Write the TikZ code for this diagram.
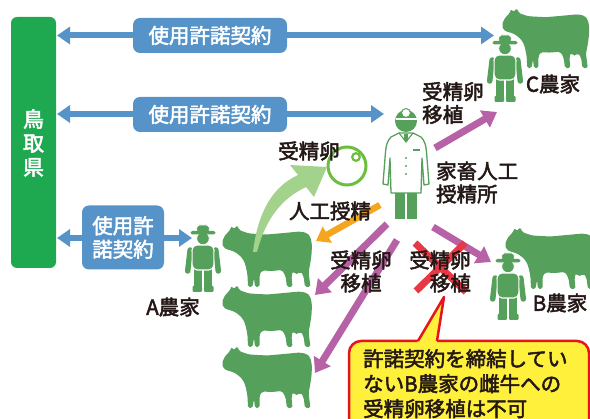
\documentclass[tikz,border=0pt]{standalone}
\usepackage{fontspec}
\setmainfont{Noto Sans CJK JP}[FakeBold=2.4]
\usetikzlibrary{arrows.meta}

\definecolor{prefgreen}{RGB}{30,168,80}
\definecolor{licblue}{RGB}{86,147,200}
\definecolor{animal}{RGB}{85,160,90}
\definecolor{etpurple}{RGB}{183,98,166}
\definecolor{aiorange}{RGB}{245,165,30}
\definecolor{eggarrow}{RGB}{163,210,140}
\definecolor{eggring}{RGB}{108,190,62}
\definecolor{crossred}{RGB}{232,56,70}
\definecolor{noteborder}{RGB}{230,20,30}
\definecolor{notefill}{RGB}{255,240,60}
\definecolor{ink}{RGB}{35,24,21}

\tikzset{
  lbl/.style={text=ink, inner sep=0pt, font=\fontsize{20.5}{23}\selectfont},
  licbox/.style={fill=licblue, text=white, rounded corners=7pt, inner sep=0pt,
    font=\fontsize{20.5}{23.5}\selectfont, align=center},
  licarrow/.style={licblue, line width=6pt,
    {Triangle[width=17pt,length=13pt]}-{Triangle[width=17pt,length=13pt]}},
  etarrow/.style={etpurple, line width=7pt, -{Triangle[width=19pt,length=14pt]}},
  aiarrow/.style={aiorange, line width=6.5pt, -{Triangle[width=18pt,length=13pt]}},
  % cow silhouette facing left, about 90 x 62
  cow/.pic={
    \fill[animal, rounded corners=1.8pt]
      (0,18) -- (1.5,13) -- (4.5,8.5) -- (8,5.5) -- (9.5,0.5) -- (11.5,4.5)
      -- (15.5,0) -- (17,5) -- (21,6.5) -- (27,8.5) -- (45,9.5) -- (62,8)
      -- (78,6.5) -- (85,8) -- (88.5,12) -- (90,20) -- (89.5,30) -- (88,40)
      -- (86.5,47) -- (88.5,62) -- (83,62) -- (81.5,51) -- (78.5,46.5)
      -- (76,49) -- (73,49) -- (71,46) -- (69.5,51) -- (70.5,62) -- (65,62)
      -- (63.5,51) -- (60,45) -- (50,46) -- (40,45.5) -- (37.5,50) -- (37.5,62)
      -- (33,62) -- (32,53) -- (30.5,62) -- (26,62) -- (25.5,50) -- (23.5,40)
      -- (21,34) -- (16,29) -- (11,26) -- (5,24.5) -- (1.5,22.5) -- cycle;
  },
  % farmer with a brimmed hat, origin at top centre
  farmer/.pic={
    \fill[animal] (-9,42) rectangle (-1,64);
    \fill[animal] (1,42) rectangle (9,64);
    \fill[animal, rounded corners=1pt] (-10.5,61) rectangle (-1,67);
    \fill[animal, rounded corners=1pt] (1,61) rectangle (10.5,67);
    \draw[animal, line width=5.5pt, line cap=round] (-12.8,25) -- (-15.3,46);
    \draw[animal, line width=5.5pt, line cap=round] (12.8,25) -- (15.3,46);
    \filldraw[fill=animal, draw=white, line width=1.1pt, rounded corners=5pt]
      (-10.8,45) -- (-11,20) -- (11,20) -- (10.8,45) -- cycle;
    \filldraw[fill=animal, draw=white, line width=0.8pt] (0,13.5) circle (6.3);
    \filldraw[fill=animal, draw=white, line width=0.8pt, rounded corners=2pt]
      (-6.5,7) -- (-6,0) -- (6,0) -- (6.5,7) -- cycle;
    \fill[animal, rounded corners=1.7pt] (-12.5,6) rectangle (12.5,9.5);
  }
}

\begin{document}
\begin{tikzpicture}[x=1pt,y=-1pt]
\useasboundingbox (0,0) rectangle (590,419);
\clip (0,0) rectangle (590,419);

% ---- prefecture bar
\node[fill=prefgreen, rounded corners=6pt, minimum width=45pt,
      minimum height=251pt, inner sep=0pt] (pref) at (33.5,142.5) {};
\node[text=white, inner sep=0pt, align=center,
      font=\fontsize{21}{24}\selectfont] (prefname) at (33.5,143) {鳥\\取\\県};

% ---- licence contracts
\coordinate (p1) at (57,35.5);  \coordinate (c1) at (494,35.5);
\coordinate (p2) at (57,114);   \coordinate (c2) at (384,114);
\coordinate (p3) at (57,238);   \coordinate (c3) at (192,238);
\draw[licarrow] (p1) -- (c1);
\draw[licarrow] (p2) -- (c2);
\draw[licarrow] (p3) -- (c3);
\node[licbox, minimum width=154pt, minimum height=35pt] (lic1) at (210,35.5) {使用許諾契約};
\node[licbox, minimum width=154pt, minimum height=35pt] (lic2) at (210,114.5) {使用許諾契約};
\node[licbox, minimum width=82pt, minimum height=64pt] (lic3) at (123,237.5) {使用許\\諾契約};

% ---- cattle
\pic at (222,225) {cow};
\pic at (222,285) {cow};
\pic at (222,346) {cow};
\pic[scale=0.97] at (502,8) {cow};
\pic at (505,227) {cow};

% ---- farmers
\pic at (203,225) {farmer};
\pic at (505,35) {farmer};
\pic at (508,253) {farmer};
\node[lbl] (farmA) at (173,307) {A農家};
\node[lbl] (farmC) at (553,84) {C農家};
\node[lbl] (farmB) at (560,303) {B農家};

% ---- insemination centre technician
\fill[animal] (395,192) rectangle (405.2,219);
\fill[animal] (406.8,192) rectangle (417,219);
\filldraw[fill=white, draw=animal, line width=1.3pt, line join=round]
  (399,133) -- (391,137) .. controls (387,141) and (386,146) .. (385.5,152)
  -- (383,184) -- (388,185) -- (390,158) -- (391,193) -- (421,193)
  -- (422,158) -- (424,185) -- (429,184) -- (426.5,152)
  .. controls (426,146) and (425,141) .. (421,137) -- (413,133) -- cycle;
\draw[animal, line width=1.1pt] (399,133) -- (406,142) -- (413,133);
\fill[animal] (404.3,134) rectangle (407.7,141);
\draw[animal, line width=1.6pt] (413,150) -- (420,150);
\foreach \yy in {158,166,174} \fill[animal] (406,\yy) circle (1.1);
\fill[animal] (406,121) circle (11);
\draw[white, line width=1.3pt] (395.5,119) -- (416.5,119);
\filldraw[fill=white, draw=animal, line width=1pt] (406,113) circle (4.5);
\node[lbl, align=left, anchor=west] (centre) at (436,182.5) {家畜人工\\授精所};

% ---- fertilised egg
\draw[eggring, line width=3pt] (347,166) circle (19);
\draw[eggring, line width=2.2pt] (356,157) circle (3.8);
\node[lbl] (egg) at (309,151) {受精卵};

% collecting the egg from cow A
\fill[eggarrow]
  (253,252) .. controls (258,210) and (274,186) .. (298,175)
  -- (290,165) -- (327,167) -- (314,197) -- (306,187)
  .. controls (283,198) and (266,217) .. (257,252) -- cycle;

% artificial insemination
\coordinate (aiS) at (380,205);
\coordinate (aiE) at (316,241);
\draw[aiarrow] (aiS) -- (aiE);
\node[lbl] (ai) at (330,211) {人工授精};

% ---- embryo transfers
\coordinate (etC0) at (435,148);  \coordinate (etC1) at (497,112);
\coordinate (etA0) at (387,224);  \coordinate (etA1) at (315,295);
\coordinate (etA2) at (397,240);  \coordinate (etA3) at (315,373);
\coordinate (etB0) at (433,227);  \coordinate (etB1) at (491,262);
\draw[etarrow] (etC0) -- (etC1);
\draw[etarrow] (etA0) -- (etA1);
\draw[etarrow] (etA2) -- (etA3);
\draw[etarrow] (etB0) -- (etB1);
\node[lbl, align=left, anchor=west] (etlblC) at (422,103) {受精卵\\移植};
\node[lbl, align=center] (etlblA) at (361,271.5) {受精卵\\移植};

% transfer to B is not allowed
\draw[crossred, line width=7pt] (415,243) -- (466,292);
\draw[crossred, line width=7pt] (465,243) -- (416,291);
\node[lbl, align=right, anchor=east] (etlblB) at (471,271.5) {受精卵\\移植};

% ---- note
\coordinate (noteTip) at (444,297);
\filldraw[fill=notefill, draw=noteborder, line width=2.5pt, rounded corners=12pt]
  (349,341) rectangle (589,450);
\fill[notefill] (416.8,343) -- (noteTip) -- (436.7,343) -- cycle;
\draw[noteborder, line width=2.5pt, line join=round] (418,341) -- (noteTip) -- (437,341);
\node[lbl, align=left, anchor=north west, font=\fontsize{20.5}{25}\selectfont]
  (note) at (363,349) {許諾契約を締結してい\\ないB農家の雌牛への\\受精卵移植は不可};
\end{tikzpicture}
\end{document}
